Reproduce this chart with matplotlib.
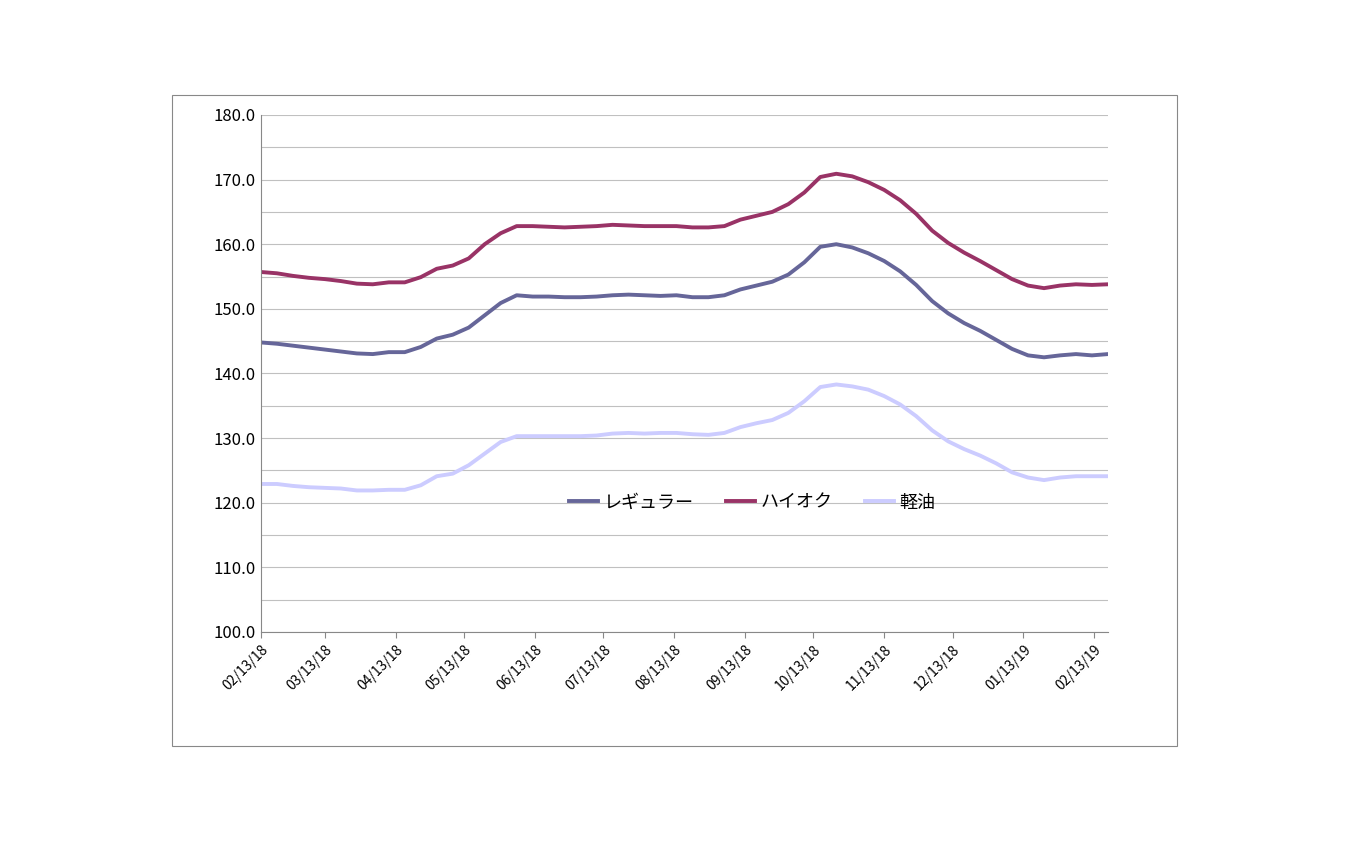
import pandas as pd
import matplotlib.pyplot as plt
from matplotlib.patches import Rectangle

plt.rcParams['font.family'] = 'Noto Sans CJK JP'

# weekly prices, starting 2018-02-13
start = pd.Timestamp('2018-02-13')
regular = [144.8,144.6,144.3,144.0,143.7,143.4,143.1,143.0,143.3,143.3,144.1,145.4,146.0,147.1,149.0,150.9,152.1,151.9,
           151.9,151.8,151.8,151.9,152.1,152.2,152.1,152.0,152.1,151.8,151.8,152.1,153.0,153.6,154.2,155.3,157.2,159.6,
           160.0,159.5,158.6,157.4,155.8,153.7,151.2,149.3,147.8,146.6,145.2,143.8,142.8,142.5,142.8,143.0,142.8,143.0]
highoctane = [155.7,155.5,155.1,154.8,154.6,154.3,153.9,153.8,154.1,154.1,154.9,156.2,156.7,157.8,160.0,161.7,162.8,162.8,
              162.7,162.6,162.7,162.8,163.0,162.9,162.8,162.8,162.8,162.6,162.6,162.8,163.8,164.4,165.0,166.2,168.0,170.4,
              170.9,170.5,169.6,168.4,166.8,164.7,162.1,160.2,158.7,157.4,156.0,154.6,153.6,153.2,153.6,153.8,153.7,153.8]
diesel = [122.9,122.9,122.6,122.4,122.3,122.2,121.9,121.9,122.0,122.0,122.7,124.1,124.5,125.8,127.6,129.4,130.3,130.3,
          130.3,130.3,130.3,130.4,130.7,130.8,130.7,130.8,130.8,130.6,130.5,130.8,131.7,132.3,132.8,133.9,135.7,137.9,
          138.3,138.0,137.5,136.5,135.2,133.4,131.2,129.5,128.3,127.3,126.1,124.7,123.9,123.5,123.9,124.1,124.1,124.1]
names = ['レギュラー', 'ハイオク', '軽油']
colors = ['#666699', '#993366', '#ccccff']

days = [7 * i for i in range(len(regular))]
tick_dates = pd.date_range('2018-02-01', '2019-02-13', freq='MS') + pd.Timedelta(days=12)
tick_pos = [(d - start).days for d in tick_dates]
tick_labels = [d.strftime('%m/%d/%y') for d in tick_dates]

fig = plt.figure(figsize=(13.5, 8.44), dpi=100)
fig.patches.append(Rectangle((0.1274, 0.1161), 0.7444, 0.7713, transform=fig.transFigure,
                             fill=False, edgecolor='#888888', lw=0.8))
ax = fig.add_axes([0.1933, 0.2512, 0.6274, 0.6126])

for y, name, c in zip([regular, highoctane, diesel], names, colors):
    ax.plot(days, y, color=c, lw=2.8, label=name)

ax.set_xlim(0, days[-1])
ax.set_ylim(100, 180)
ax.set_yticks(range(100, 181, 10))
ax.set_yticklabels(['%.1f' % v for v in range(100, 181, 10)], fontsize=12)
ax.set_yticks(range(100, 181, 5), minor=True)
ax.grid(True, which='both', axis='y', color='#c0c0c0', lw=0.8)
ax.set_xticks(tick_pos)
ax.set_xticklabels(tick_labels, rotation=45, ha='right', rotation_mode='anchor', fontsize=10)
ax.tick_params(axis='y', which='both', length=0)
ax.tick_params(axis='x', length=4, color='#888888')
for s in ['top', 'right']:
    ax.spines[s].set_visible(False)
for s in ['left', 'bottom']:
    ax.spines[s].set_color('#888888')

ax.legend(loc='center', bbox_to_anchor=(0.58, 0.25), ncol=3, frameon=False, fontsize=13,
          handlelength=1.6, handletextpad=0.3, columnspacing=1.8)

fig.savefig('out.png')
